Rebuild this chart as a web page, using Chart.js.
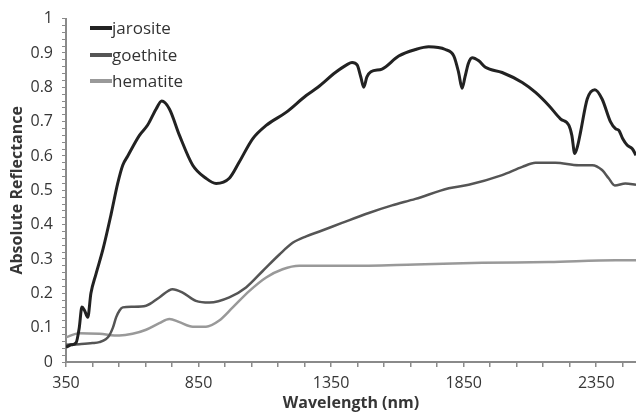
<!DOCTYPE html>
<html>
<head>
<meta charset="utf-8">
<script src="https://cdn.jsdelivr.net/npm/chart.js@4"></script>
<style>
  html, body { margin: 0; padding: 0; background: #fff; }
  #wrap { position: relative; width: 636px; height: 417px; }
  #legend { position: absolute; left: 90px; top: 15px; font-family: "Open Sans", sans-serif; font-size: 17px; color: #333; }
  #legend div { height: 26.5px; line-height: 22px; display: flex; align-items: center; }
  #legend span.mark { display: inline-block; width: 22px; height: 4px; margin-right: 0; }
</style>
</head>
<body>
<div id="wrap">
  <canvas id="chart" width="636" height="417"></canvas>
  <div id="legend"></div>
</div>
<script>
// wavelength (nm) / absolute reflectance
const jarositeNm = [350, 370, 388, 400, 410, 420, 432, 444, 463, 490, 520, 545, 564, 583, 627, 658, 690, 711, 740, 778, 828, 878, 916, 966, 1004, 1054, 1105, 1180, 1256, 1300, 1366, 1410, 1429, 1448, 1462, 1473, 1485, 1500, 1542, 1605, 1668, 1718, 1781, 1813, 1831, 1844, 1855, 1868, 1882, 1907, 1932, 1995, 2071, 2121, 2171, 2215, 2247, 2258, 2269, 2280, 2291, 2316, 2345, 2372, 2404, 2423, 2435, 2450, 2467, 2486, 2500];
const jarositeR = [0.043, 0.05, 0.056, 0.10, 0.16, 0.15, 0.13, 0.20, 0.256, 0.33, 0.43, 0.52, 0.573, 0.60, 0.66, 0.69, 0.737, 0.76, 0.737, 0.66, 0.573, 0.535, 0.52, 0.535, 0.583, 0.65, 0.689, 0.727, 0.776, 0.80, 0.843, 0.866, 0.872, 0.865, 0.83, 0.80, 0.83, 0.845, 0.853, 0.891, 0.91, 0.918, 0.91, 0.891, 0.843, 0.797, 0.83, 0.87, 0.886, 0.877, 0.858, 0.843, 0.814, 0.785, 0.747, 0.708, 0.689, 0.66, 0.607, 0.63, 0.67, 0.766, 0.793, 0.766, 0.699, 0.679, 0.675, 0.65, 0.631, 0.621, 0.602];

const goethiteNm = [350, 400, 450, 476, 500, 513, 527, 539, 552, 564, 601, 652, 702, 752, 790, 840, 891, 966, 1029, 1092, 1155, 1205, 1256, 1306, 1391, 1492, 1580, 1668, 1794, 1869, 1995, 2071, 2121, 2196, 2284, 2335, 2372, 2397, 2420, 2460, 2500];
const goethiteR = [0.05, 0.052, 0.055, 0.058, 0.066, 0.077, 0.10, 0.13, 0.15, 0.159, 0.161, 0.164, 0.188, 0.212, 0.202, 0.178, 0.173, 0.188, 0.217, 0.265, 0.313, 0.347, 0.366, 0.38, 0.405, 0.434, 0.456, 0.475, 0.506, 0.516, 0.544, 0.568, 0.58, 0.58, 0.573, 0.573, 0.559, 0.535, 0.514, 0.52, 0.516];

const hematiteNm = [350, 400, 476, 551, 601, 652, 702, 740, 778, 828, 878, 928, 979, 1042, 1105, 1167, 1230, 1306, 1417, 1668, 1920, 2171, 2423, 2500];
const hematiteR = [0.072, 0.084, 0.082, 0.077, 0.082, 0.094, 0.113, 0.125, 0.116, 0.103, 0.103, 0.121, 0.159, 0.207, 0.246, 0.27, 0.28, 0.28, 0.28, 0.284, 0.289, 0.291, 0.296, 0.296];

const seriesNames = ['jarosite', 'goethite', 'hematite'];
const seriesColors = ['#222222', '#555555', '#999999'];
const seriesWidths = [3, 2.5, 2.5];

const xLabels = [350, 850, 1350, 1850, 2350];
const xMinorStep = 100;
const yMax = 1;
const yMinorStep = 0.02;

function toPoints(xs, ys) {
    return xs.map((x, i) => ({ x: x, y: ys[i] }));
}

const seriesData = [
    toPoints(jarositeNm, jarositeR),
    toPoints(goethiteNm, goethiteR),
    toPoints(hematiteNm, hematiteR)
];

const textColor = '#363636';
const axisColor = '#8a8a8a';

// html legend, like the original inset
const legend = document.getElementById('legend');
seriesNames.forEach((name, i) => {
    const row = document.createElement('div');
    row.innerHTML = `<span class="mark" style="background:${seriesColors[i]}"></span>${name}`;
    legend.appendChild(row);
});

new Chart(document.getElementById('chart'), {
    type: 'line',
    data: {
        datasets: seriesNames.map((name, i) => ({
            label: name,
            data: seriesData[i],
            borderColor: seriesColors[i],
            borderWidth: seriesWidths[i],
            pointRadius: 0,
            fill: false,
            cubicInterpolationMode: 'monotone'
        }))
    },
    options: {
        responsive: false,
        animation: false,
        layout: { padding: { top: 16, right: 0, left: 0, bottom: 0 } },
        plugins: {
            legend: { display: false },
            tooltip: { enabled: false }
        },
        scales: {
            x: {
                type: 'linear',
                min: xLabels[0],
                max: 2500,
                afterBuildTicks: scale => {
                    const ticks = [];
                    for (let v = xLabels[0]; v <= 2500; v += xMinorStep) ticks.push({ value: v });
                    scale.ticks = ticks;
                },
                afterFit: scale => { scale.height = 55; },
                ticks: {
                    autoSkip: false,
                    maxRotation: 0,
                    color: textColor,
                    font: { family: 'Open Sans', size: 16 },
                    padding: 7,
                    callback: v => xLabels.includes(v) ? String(v) : ''
                },
                grid: {
                    drawOnChartArea: false,
                    drawTicks: true,
                    tickLength: 5,
                    tickColor: axisColor,
                    lineWidth: 1.5
                },
                border: { color: axisColor, width: 2 },
                title: {
                    display: true,
                    text: 'Wavelength (nm)',
                    color: textColor,
                    font: { family: 'Open Sans', size: 16, weight: 'bold' },
                    padding: { top: 0, bottom: 4 }
                }
            },
            y: {
                min: 0,
                max: yMax,
                afterBuildTicks: scale => {
                    const ticks = [];
                    for (let k = 0; k <= 50; k++) ticks.push({ value: +(k * yMinorStep).toFixed(2) });
                    scale.ticks = ticks;
                },
                afterFit: scale => { scale.width = 66; },
                ticks: {
                    autoSkip: false,
                    color: textColor,
                    font: { family: 'Open Sans', size: 16 },
                    padding: 9,
                    callback: v => {
                        const tenth = Math.round(v * 10);
                        return Math.abs(v * 10 - tenth) < 1e-6 ? String(tenth / 10) : '';
                    }
                },
                grid: {
                    drawOnChartArea: false,
                    drawTicks: true,
                    tickLength: 4,
                    tickColor: axisColor,
                    lineWidth: 1
                },
                border: { color: axisColor, width: 2 },
                title: {
                    display: true,
                    text: 'Absolute Reflectance',
                    color: textColor,
                    font: { family: 'Open Sans', size: 16, weight: 'bold' },
                    padding: { top: 8, bottom: 0 }
                }
            }
        }
    }
});
</script>
</body>
</html>
